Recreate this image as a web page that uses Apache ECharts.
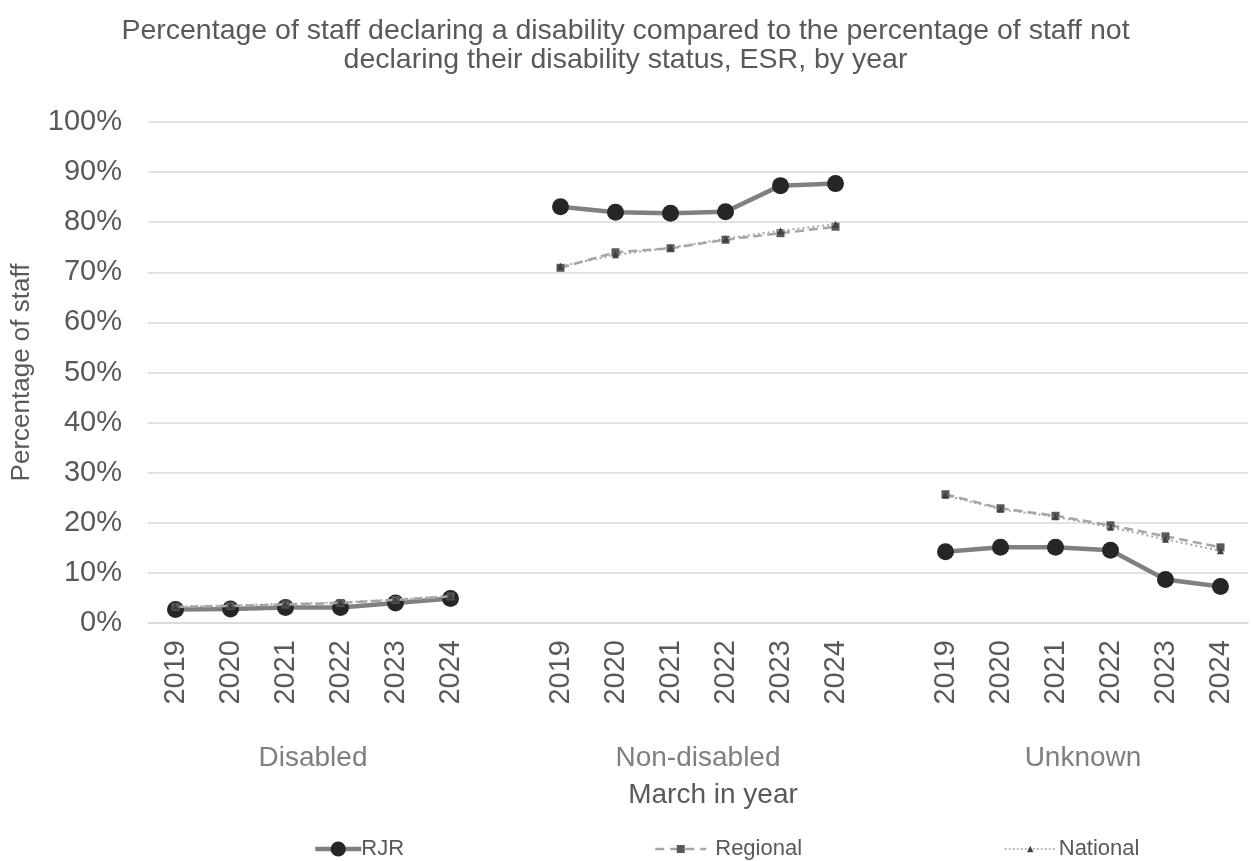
<!DOCTYPE html>
<html>
<head>
<meta charset="utf-8">
<script src="https://cdn.jsdelivr.net/npm/echarts@6/dist/echarts.min.js"></script>
<style>
  html, body { margin: 0; padding: 0; background: #ffffff; }
  #chart { width: 1251px; height: 861px; }
</style>
</head>
<body>
<div id="chart"></div>
<script>
// Disability status groups and the years shown within each group
const groups = ['Disabled', 'Non-disabled', 'Unknown'];
const years = ['2019', '2020', '2021', '2022', '2023', '2024'];

// Percentage of staff per group, one array per group per series
const rjrDisabled = [2.7, 2.8, 3.1, 3.1, 4.0, 4.9];
const rjrNonDisabled = [83.1, 82.0, 81.8, 82.1, 87.3, 87.7];
const rjrUnknown = [14.2, 15.1, 15.1, 14.5, 8.7, 7.3];

const regionalDisabled = [3.2, 3.4, 3.7, 4.0, 4.6, 5.3];
const regionalNonDisabled = [70.9, 74.0, 74.8, 76.5, 77.8, 79.1];
const regionalUnknown = [25.7, 22.9, 21.4, 19.5, 17.3, 15.1];

const nationalDisabled = [3.3, 3.5, 3.8, 4.1, 4.7, 5.4];
const nationalNonDisabled = [71.2, 73.5, 74.9, 76.7, 78.3, 79.6];
const nationalUnknown = [25.5, 22.7, 21.2, 19.1, 16.7, 14.4];

const yTicks = [0, 10, 20, 30, 40, 50, 60, 70, 80, 90, 100];

// Flatten the groups into one category axis with an empty slot between groups
function joinGroups(parts, gapValue) {
  const out = [];
  parts.forEach((p, i) => {
    if (i > 0) out.push(gapValue);
    p.forEach(v => out.push(v));
  });
  return out;
}
const categories = joinGroups(groups.map(() => years), '');
const rjr = joinGroups([rjrDisabled, rjrNonDisabled, rjrUnknown], null);
const regional = joinGroups([regionalDisabled, regionalNonDisabled, regionalUnknown], null);
const national = joinGroups([nationalDisabled, nationalNonDisabled, nationalUnknown], null);

// Group labels sit at the centre of each run of years on a 0..N value scale
const groupCentres = {};
groups.forEach((g, i) => {
  const start = i * (years.length + 1);
  groupCentres[start + years.length / 2] = g;
});

const textGrey = '#595959';
const font = 'Liberation Sans, Arial, sans-serif';

const chart = echarts.init(document.getElementById('chart'), null, { renderer: 'canvas' });

function legendFor(name, left, itemWidth, itemHeight, lineStyle, textPad) {
  return {
    data: [name],
    left: left,
    bottom: -4,
    itemWidth: itemWidth,
    itemHeight: itemHeight,
    itemGap: 0,
    lineStyle: lineStyle,
    textStyle: { color: textGrey, fontSize: 22, fontFamily: font, padding: [0, 0, 0, textPad] }
  };
}

chart.setOption({
  animation: false,
  title: {
    text: 'Percentage of staff declaring a disability compared to the percentage of staff not\ndeclaring their disability status, ESR, by year',
    left: 'center',
    top: 12,
    textStyle: { color: textGrey, fontSize: 28.5, fontWeight: 'normal', fontFamily: font, lineHeight: 29 }
  },
  legend: [
    legendFor('RJR', 308, 46, 19, { width: 4.5, color: '#808080' }, -5),
    legendFor('Regional', 649, 51, 10, { width: 2.5, color: '#a6a6a6', type: [9, 6] }, 4),
    legendFor('National', 999, 51, 8, { width: 1.5, color: '#a6a6a6', type: [2, 2] }, -2)
  ],
  grid: { left: 148, right: 3, top: 122, bottom: 238, containLabel: false },
  xAxis: [
    {
      type: 'category',
      data: categories,
      boundaryGap: true,
      axisLine: { show: true, lineStyle: { color: '#d9d9d9', width: 1.5 } },
      axisTick: { show: false },
      axisLabel: { rotate: 90, color: textGrey, fontSize: 29, fontFamily: font, margin: 17, interval: 0 }
    },
    {
      type: 'value',
      position: 'bottom',
      min: 0,
      max: categories.length,
      interval: 1,
      axisLine: { show: false },
      axisTick: { show: false },
      splitLine: { show: false },
      axisLabel: {
        color: '#7f7f7f',
        fontSize: 28,
        fontFamily: font,
        margin: 121,
        formatter: v => groupCentres[v] || ''
      },
      name: 'March in year',
      nameLocation: 'middle',
      nameGap: 158,
      nameTextStyle: { color: textGrey, fontSize: 28, fontFamily: font, padding: [0, 0, 0, 30] }
    }
  ],
  yAxis: {
    type: 'value',
    min: yTicks[0],
    max: yTicks[yTicks.length - 1],
    interval: yTicks[1] - yTicks[0],
    axisLine: { show: false },
    axisTick: { show: false },
    splitLine: { lineStyle: { color: '#d9d9d9', width: 1.5 } },
    axisLabel: { color: textGrey, fontSize: 29, fontFamily: font, margin: 26, formatter: '{value}%' },
    name: 'Percentage of staff',
    nameLocation: 'middle',
    nameGap: 113,
    nameTextStyle: { color: textGrey, fontSize: 26, fontFamily: font }
  },
  series: [
    {
      name: 'RJR',
      type: 'line',
      data: rjr,
      connectNulls: false,
      symbol: 'circle',
      symbolSize: 17,
      itemStyle: { color: '#262626' },
      lineStyle: { color: '#808080', width: 4.5 },
      z: 2
    },
    {
      name: 'Regional',
      type: 'line',
      data: regional,
      connectNulls: false,
      symbol: 'rect',
      symbolSize: 8,
      itemStyle: { color: '#595959' },
      lineStyle: { color: '#a6a6a6', width: 2.5, type: [9, 5] },
      z: 3
    },
    {
      name: 'National',
      type: 'line',
      data: national,
      connectNulls: false,
      symbol: 'triangle',
      symbolSize: 7,
      itemStyle: { color: '#404040' },
      lineStyle: { color: '#a6a6a6', width: 2, type: [2, 3] },
      z: 4
    }
  ]
});
</script>
</body>
</html>
